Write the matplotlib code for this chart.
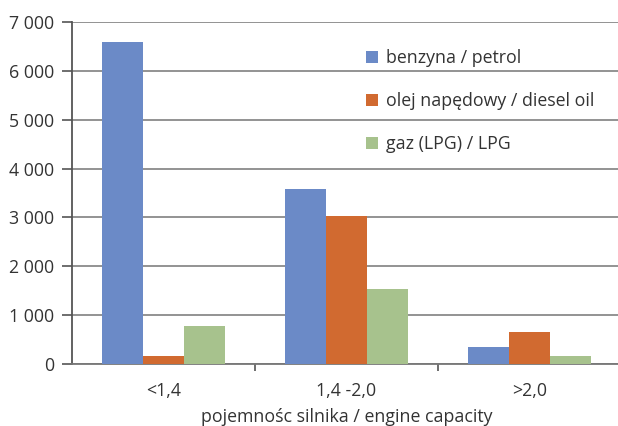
import matplotlib
matplotlib.use("Agg")
import matplotlib.pyplot as plt
from matplotlib.patches import Patch
import numpy as np

categories = ["<1,4", "1,4 -2,0", ">2,0"]
series_names = ["benzyna / petrol", "olej napędowy / diesel oil", "gaz (LPG) / LPG"]
petrol = [6600, 3580, 350]
diesel = [160, 3030, 650]
lpg = [780, 1530, 160]
y_ticks = [0, 1000, 2000, 3000, 4000, 5000, 6000, 7000]
y_tick_labels = ["0", "1 000", "2 000", "3 000", "4 000", "5 000", "6 000", "7 000"]
x_label = "pojemnośc silnika / engine capacity"

colors = ["#6B8AC7", "#D16A30", "#A7C28D"]
fs = 12.8

plt.rcParams["font.family"] = ["Open Sans", "DejaVu Sans"]

fig = plt.figure(figsize=(6.18, 4.26), dpi=100)
ax = fig.add_axes([72 / 618, 62 / 426, 549 / 618, 342 / 426])

x = np.arange(len(categories))
w = 0.223
for i, vals in enumerate([petrol, diesel, lpg]):
    ax.bar(x + (i - 1) * w, vals, width=w, color=colors[i], zorder=3)

ax.set_xlim(-0.5, 2.5)
ax.set_ylim(0, 7000)
ax.set_yticks(y_ticks)
ax.set_yticklabels(y_tick_labels, fontsize=fs, color="#333333")
ax.set_xticks(x)
ax.set_xticklabels(categories, fontsize=fs, color="#333333")
ax.tick_params(axis="x", length=0, pad=13)
ax.set_xticks([0.5, 1.5], minor=True)
ax.tick_params(axis="x", which="minor", length=5, width=1.2, color="#555555", direction="out")
ax.tick_params(axis="y", length=7, width=1.2, color="#555555", pad=6)
ax.grid(axis="y", color="#8A8A8A", linewidth=1.3, zorder=0)
for s in ["top", "right"]:
    ax.spines[s].set_visible(False)
ax.spines["left"].set_color("#555555")
ax.spines["left"].set_linewidth(1.3)
ax.spines["bottom"].set_color("#777777")
ax.spines["bottom"].set_linewidth(1.3)
ax.set_xlabel(x_label, fontsize=fs, color="#333333", labelpad=6)

handles = [Patch(facecolor=c, edgecolor="none") for c in colors]
fig.legend(handles, series_names, loc="upper left",
           bbox_to_anchor=(350 / 618, 1 - 33 / 426), frameon=False,
           fontsize=fs, labelspacing=1.42, handlelength=0.65,
           handleheight=0.65, handletextpad=0.5, labelcolor="#333333")

fig.savefig("out.png", dpi=100)
